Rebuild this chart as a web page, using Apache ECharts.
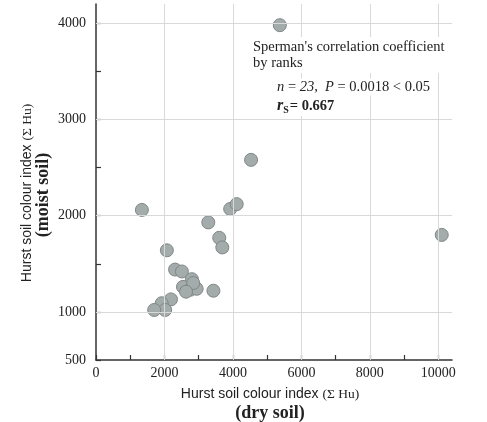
<!DOCTYPE html>
<html><head><meta charset="utf-8">
<script src="https://cdn.jsdelivr.net/npm/echarts@6/dist/echarts.min.js"></script>
<style>html,body{margin:0;padding:0;background:#fff}#c{width:487px;height:422px}</style>
</head><body><div id="c"></div>
<script>
// Hurst soil colour index: dry soil (x) vs moist soil (y)
const dryHu   = [5370, 1340, 4530, 10100, 3920, 4110, 3280, 3600, 3690, 2070, 2310, 2510, 2800, 2540, 2750, 2940, 3430, 2190, 1920, 2020, 1700, 2840, 2630];
const moistHu = [3980, 2060, 2580, 1800, 2070, 2120, 1930, 1770, 1670, 1640, 1440, 1420, 1340, 1260, 1230, 1240, 1220, 1130, 1090, 1020, 1020, 1300, 1210];
const xTickValues = [0, 1000, 2000, 3000, 4000, 5000, 6000, 7000, 8000, 9000, 10000];
const xLabelValues = [0, 2000, 4000, 6000, 8000, 10000];
const yTickValues = [500, 1000, 1500, 2000, 2500, 3000, 3500, 4000];
const yLabelValues = [500, 1000, 2000, 3000, 4000];
const xGridValues = [2000, 4000, 6000, 8000, 10000];
const yGridValues = [1000, 2000, 3000, 4000];

const SERIF = '"Liberation Serif", "Times New Roman", serif';
const SANS = '"Liberation Sans", Arial, sans-serif';

const points = dryHu.map((x, i) => [x, moistHu[i]]);
const gridLines = xGridValues.map(v => ({ xAxis: v })).concat(yGridValues.map(v => ({ yAxis: v })));

const chart = echarts.init(document.getElementById('c'), null, { renderer: 'canvas' });
chart.setOption({
  animation: false,
  backgroundColor: '#ffffff',
  grid: { left: 96, right: 35, top: 4, bottom: 62 },
  xAxis: {
    type: 'value', min: 0, max: 10400,
    axisLine: { show: true, lineStyle: { color: '#333', width: 1.5 } },
    axisTick: { show: true, inside: true, length: 5, customValues: xTickValues, lineStyle: { color: '#333', width: 1.2 } },
    axisLabel: { customValues: xLabelValues, formatter: v => String(v), color: '#222', fontFamily: SERIF, fontSize: 14, margin: 6 },
    splitLine: { show: false }
  },
  yAxis: {
    type: 'value', min: 500, max: 4200,
    axisLine: { show: true, lineStyle: { color: '#333', width: 1.5 } },
    axisTick: { show: true, inside: true, length: 5, customValues: yTickValues, lineStyle: { color: '#333', width: 1.2 } },
    axisLabel: { customValues: yLabelValues, formatter: v => String(v), color: '#222', fontFamily: SERIF, fontSize: 14, margin: 10 },
    splitLine: { show: false }
  },
  series: [
    {
      type: 'line', data: [], z: 1, silent: true,
      markLine: {
        silent: true, symbol: 'none', animation: false,
        label: { show: false },
        lineStyle: { color: '#d9d9d9', width: 1, type: 'solid' },
        data: gridLines
      }
    },
    {
      type: 'scatter', z: 3, data: points, symbolSize: 13,
      itemStyle: { color: '#a3abab', borderColor: '#7f8787', borderWidth: 1, opacity: 1 }
    }
  ],
  graphic: [
    {
      type: 'text', x: 270, y: 394,
      style: {
        text: '{a|Hurst soil colour index }{b|(Σ Hu)}',
        align: 'center', verticalAlign: 'middle',
        rich: {
          a: { fontFamily: SANS, fontSize: 14, fill: '#222' },
          b: { fontFamily: SERIF, fontSize: 13.5, fill: '#222' }
        }
      }
    },
    {
      type: 'text', x: 270, y: 413,
      style: { text: '(dry soil)', align: 'center', verticalAlign: 'middle', fontFamily: SERIF, fontSize: 18, fontWeight: 'bold', fill: '#222' }
    },
    {
      type: 'text', x: 27, y: 193, rotation: Math.PI / 2,
      style: {
        text: '{a|Hurst soil colour index }{b|(Σ Hu)}',
        align: 'center', verticalAlign: 'middle',
        rich: {
          a: { fontFamily: SANS, fontSize: 14, fill: '#222' },
          b: { fontFamily: SERIF, fontSize: 13.5, fill: '#222' }
        }
      }
    },
    {
      type: 'text', x: 43, y: 195, rotation: Math.PI / 2,
      style: { text: '(moist soil)', align: 'center', verticalAlign: 'middle', fontFamily: SERIF, fontSize: 18, fontWeight: 'bold', fill: '#222' }
    },
    {
      type: 'text', x: 251, y: 55, z: 10,
      style: {
        text: "Sperman's correlation coefficient\nby ranks", align: 'left', verticalAlign: 'middle',
        fontFamily: SERIF, fontSize: 14.5, lineHeight: 16, fill: '#222',
        backgroundColor: '#ffffff', padding: [2, 3, 2, 2]
      }
    },
    {
      type: 'text', x: 275, y: 87, z: 10,
      style: {
        text: '{i|n} = {i|23},  {i|P} = 0.0018 < 0.05',
        align: 'left', verticalAlign: 'middle',
        fontFamily: SERIF, fontSize: 14.5, fill: '#222',
        backgroundColor: '#ffffff', padding: [1, 2, 1, 2],
        rich: { i: { fontFamily: SERIF, fontSize: 14.5, fontStyle: 'italic', fill: '#222' } }
      }
    },
    {
      type: 'text', x: 275, y: 106, z: 10,
      style: {
        text: '{r|r}{s|S}{b|= 0.667}',
        align: 'left', verticalAlign: 'middle',
        backgroundColor: '#ffffff', padding: [1, 2, 1, 2],
        rich: {
          r: { fontFamily: SERIF, fontSize: 16, fontStyle: 'italic', fontWeight: 'bold', fill: '#222' },
          s: { fontFamily: SERIF, fontSize: 10, fontWeight: 'bold', fill: '#222', padding: [8, 1, 0, 0] },
          b: { fontFamily: SERIF, fontSize: 14.5, fontWeight: 'bold', fill: '#222' }
        }
      }
    }
  ]
});
</script>
</body></html>
